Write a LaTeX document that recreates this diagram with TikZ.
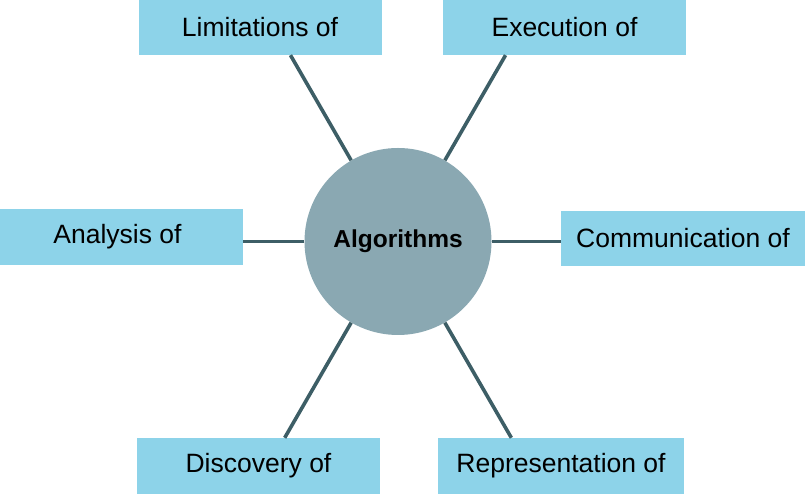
\documentclass[tikz,border=0pt]{standalone}
\usepackage{fontspec}
\setmainfont{Liberation Sans}
\definecolor{boxblue}{RGB}{141,211,233}
\definecolor{circgray}{RGB}{138,168,178}
\definecolor{linkteal}{RGB}{61,94,102}
\begin{document}
\begin{tikzpicture}[x=1pt,y=1pt,
  topic/.style={fill=boxblue, inner sep=0pt, minimum height=55pt, minimum width=243pt, font=\fontsize{26.5}{30}\selectfont, text=black},
  hub/.style={circle, fill=circgray, inner sep=0pt, minimum size=187pt, font=\fontsize{24.5}{28}\selectfont\bfseries},
  link/.style={draw=linkteal, line width=3.6pt}]
\useasboundingbox (0,0) rectangle (805,494);
\node[hub] (c) at (398,252.5) {Algorithms};
\node[topic] (lim) at (260,466.5) {Limitations of};
\node[topic] (exe) at (564.5,466.5) {Execution of};
\node[topic, minimum height=56pt] (ana) at (121.5,257) {\hspace*{-8pt}Analysis of};
\node[topic, minimum width=244pt] (com) at (683,255.5) {Communication of};
\node[topic, minimum height=56pt] (dis) at (258.5,28) {Discovery of};
\node[topic, minimum width=246pt, minimum height=56pt] (rep) at (561,28) {Representation of};
\draw[link] (c.120) -- (intersection of c.center--c.120 and lim.south west--lim.south east);
\draw[link] (c.60) -- (intersection of c.center--c.60 and exe.south west--exe.south east);
\draw[link] (c.240) -- (intersection of c.center--c.240 and dis.north west--dis.north east);
\draw[link] (c.300) -- (intersection of c.center--c.300 and rep.north west--rep.north east);
\draw[link] (c.180) -- (c.180 -| ana.east);
\draw[link] (c.0) -- (c.0 -| com.west);
\end{tikzpicture}
\end{document}
